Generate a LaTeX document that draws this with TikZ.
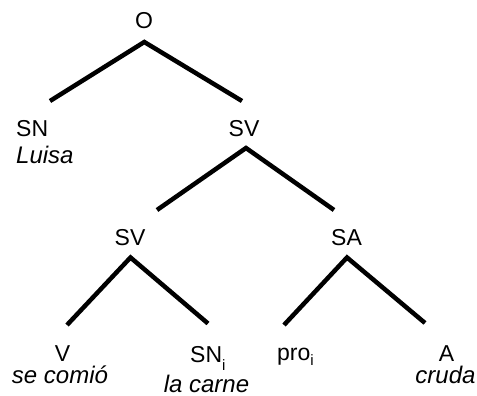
\documentclass[tikz,border=0pt]{standalone}
\usepackage{fontspec}
\setmainfont{Liberation Sans}
\begin{document}
\begin{tikzpicture}[x=1pt,y=-1pt,
  lab/.style={inner sep=0pt,anchor=base,font=\fontsize{23}{27}\selectfont},
  word/.style={inner sep=0pt,anchor=base,font=\fontsize{24}{28}\selectfont\itshape},
  branch/.style={line width=4.5pt,line join=miter,line cap=butt}]
\useasboundingbox (0,0) rectangle (477,396);

% category labels
\node[lab] (O) at (144,29) {O};
\node[lab,anchor=base west] (SN) at (16,136) {SN};
\node[lab] (SVa) at (244,136) {SV};
\node[lab] (SVb) at (130,245) {SV};
\node[lab] (SA) at (346.5,245) {SA};
\node[lab] (V) at (62.5,361) {V};
\node[lab,anchor=base west] (SNi) at (190,362.5)
  {SN\raisebox{-8pt}{\fontsize{15}{15}\selectfont i}};
\node[lab,anchor=base west] (pro) at (277,360.5)
  {pro\raisebox{-5pt}{\fontsize{15}{15}\selectfont i}};
\node[lab] (A) at (446.5,361) {A};

% words
\node[word,anchor=base west] (Luisa) at (16,163.5) {Luisa};
\node[word] (secomio) at (60,383.5) {se comió};
\node[word] (lacarne) at (206.5,392) {la carne};
\node[word] (cruda) at (445.5,383.5) {cruda};

% attachment points of the branches
\coordinate (O-foot) at (144.3,42);
\coordinate (SN-head) at (50,101);
\coordinate (SVa-head) at (242,101);
\coordinate (SVa-foot) at (246,148);
\coordinate (SVb-head) at (157,210);
\coordinate (SA-head) at (334,210);
\coordinate (SVb-foot) at (130.5,257.5);
\coordinate (V-head) at (67,325);
\coordinate (SNi-head) at (208,323.5);
\coordinate (SA-foot) at (347,257.5);
\coordinate (pro-head) at (284,325);
\coordinate (A-head) at (425,323);

% branches
\draw[branch] (SN-head) -- (O-foot) -- (SVa-head);
\draw[branch] (SVb-head) -- (SVa-foot) -- (SA-head);
\draw[branch] (V-head) -- (SVb-foot) -- (SNi-head);
\draw[branch] (pro-head) -- (SA-foot) -- (A-head);
\end{tikzpicture}
\end{document}
